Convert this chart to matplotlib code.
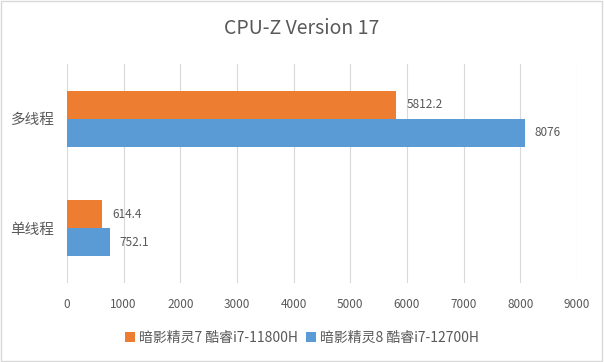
import matplotlib
matplotlib.use("Agg")
import matplotlib.pyplot as plt
from matplotlib.patches import Rectangle

plt.rcParams['font.family'] = ['Noto Sans CJK SC', 'DejaVu Sans']

categories = ["单线程", "多线程"]
series_names = ["暗影精灵7 酷睿i7-11800H", "暗影精灵8 酷睿i7-12700H"]
values_7 = [614.4, 5812.2]
values_8 = [752.1, 8076]
label_7 = ["614.4", "5812.2"]
label_8 = ["752.1", "8076"]
xticks = [0, 1000, 2000, 3000, 4000, 5000, 6000, 7000, 8000, 9000]

orange = "#ED7D31"
blue = "#5B9BD5"
txt = "#595959"

fig = plt.figure(figsize=(6.04, 3.62), dpi=100)
fig.patches.append(Rectangle((0.002, 0.003), 0.995, 0.994, transform=fig.transFigure,
                             fill=False, edgecolor="#D9D9D9", linewidth=1))
ax = fig.add_axes([67/604, (362-283)/362, (577-67)/604, (283-64)/362])

h = 0.256
ypos = list(range(len(categories)))
b7 = ax.barh([y + h/2 for y in ypos], values_7, height=h, color=orange, label=series_names[0], zorder=3)
b8 = ax.barh([y - h/2 for y in ypos], values_8, height=h, color=blue, label=series_names[1], zorder=3)

for bar, lab in zip(b7, label_7):
    ax.text(bar.get_width() + 180, bar.get_y() + bar.get_height()/2, lab,
            va="center", ha="left", fontsize=8.5, color=txt)
for bar, lab in zip(b8, label_8):
    ax.text(bar.get_width() + 180, bar.get_y() + bar.get_height()/2, lab,
            va="center", ha="left", fontsize=8.5, color=txt)

ax.set_xlim(0, 9000)
ax.set_ylim(-0.5, 1.5)
ax.set_xticks(xticks)
ax.set_xticklabels([str(t) for t in xticks], fontsize=8.5, color=txt)
ax.set_yticks(ypos)
ax.set_yticklabels(categories, fontsize=10.5, color=txt)
ax.tick_params(axis="x", length=0, pad=11)
ax.tick_params(axis="y", length=0, pad=9)
ax.grid(axis="x", color="#D9D9D9", linewidth=0.8, zorder=0)
for s in ax.spines.values():
    s.set_visible(False)

fig.text(302/604, 1 - 28/362, "CPU-Z Version 17", ha="center", va="center", fontsize=14, color=txt)

fig.legend(handles=[b7, b8], labels=series_names, loc="center", bbox_to_anchor=(302/604, 1 - 338/362),
           ncol=2, frameon=False, fontsize=10, handlelength=0.7, handleheight=0.7,
           handletextpad=0.3, columnspacing=0.6, labelcolor=txt)

fig.savefig("out.png", dpi=100)
